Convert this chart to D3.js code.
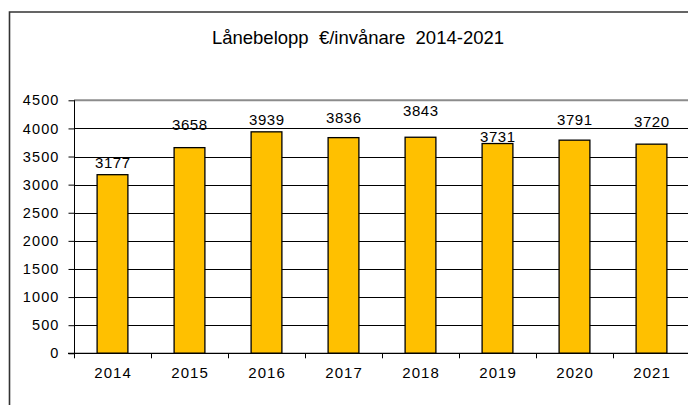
<!DOCTYPE html>
<html>
<head>
<meta charset="utf-8">
<script src="https://cdn.jsdelivr.net/npm/d3@7"></script>
<style>
    html, body { margin: 0; padding: 0; background: #fff; }
    svg { display: block; font-family: "Liberation Sans", Arial, sans-serif; }
    .title { white-space: pre; }
</style>
</head>
<body>
<div id="chart"></div>
<script>
/*
 * Chart data.
 */
var years = ['2014', '2015', '2016', '2017', '2018', '2019', '2020', '2021'];
var amounts = [3177, 3658, 3939, 3836, 3843, 3731, 3791, 3720];
var yTicks = [0, 500, 1000, 1500, 2000, 2500, 3000, 3500, 4000, 4500];
var title = 'Lånebelopp  €/invånare  2014-2021';
/*
 * Data labels were dragged by hand in the original, so keep their lift (px).
 */
var labelLift = [6.5, 18, 6.6, 15, 21, 1.6, 15, 17];


/**
 * Bar chart.
 * @public
 * @class
 */
function BarChart() {
    /**
     * Outer dimensions.
     * @private
     * @member {Object}
     */
    this._size = { width: 688, height: 405 };
    /**
     * Plot area box.
     * @private
     * @member {Object}
     */
    this._plot = { left: 74, right: 690, top: 100.3, bottom: 353.3 };
    /**
     * Scales.
     * @private
     */
    this._xScale = d3.scaleBand()
        .domain(years)
        .range([this._plot.left, this._plot.right])
        .paddingInner(0.6)
        .paddingOuter(0.3);
    this._bandScale = d3.scaleBand()
        .domain(years)
        .range([this._plot.left, this._plot.right]);
    this._yScale = d3.scaleLinear()
        .domain([0, 4500])
        .range([this._plot.bottom, this._plot.top]);
}


/**
 * Render chart.
 * @public
 * @param {String} selection
 * @returns {BarChart}
 */
BarChart.prototype.renderTo = function(selection) {

    var p = this._plot;

    this._svg = d3.select(selection).append('svg')
        .attr('width', this._size.width)
        .attr('height', this._size.height);
    /*
     * Outer frame, cut off on the right and at the bottom.
     */
    this._svg.append('path')
        .attr('d', 'M9.5,420V12H700')
        .attr('fill', 'none')
        .attr('stroke', '#333')
        .attr('stroke-width', 1.6);
    /*
     * Title.
     */
    this._svg.append('text')
        .attr('class', 'title')
        .attr('x', 358)
        .attr('y', 44)
        .attr('text-anchor', 'middle')
        .attr('font-size', 18.5)
        .attr('fill', '#000')
        .text(title);
    /*
     * Gridlines.
     */
    this._svg.append('g')
        .selectAll('line')
        .data(yTicks.filter(d => d > 0 && d < 4500))
        .join('line')
        .attr('x1', p.left)
        .attr('x2', p.right)
        .attr('y1', d => Math.round(this._yScale(d)) + 0.5)
        .attr('y2', d => Math.round(this._yScale(d)) + 0.5)
        .attr('stroke', '#000')
        .attr('stroke-width', 1);
    /*
     * Plot area top border (gray).
     */
    this._svg.append('line')
        .attr('x1', p.left)
        .attr('x2', p.right)
        .attr('y1', this._yScale(4500))
        .attr('y2', this._yScale(4500))
        .attr('stroke', '#8c8c8c')
        .attr('stroke-width', 2);
    /*
     * Y axis.
     */
    var yAxis = d3.axisLeft(this._yScale)
        .tickValues(yTicks)
        .tickSize(6)
        .tickPadding(9)
        .tickFormat(d3.format('d'));

    var gy = this._svg.append('g')
        .attr('transform', 'translate(' + (p.left + 0.5) + ',0)')
        .call(yAxis);

    gy.select('.domain')
        .attr('d', 'M0,' + p.top + 'V' + p.bottom)
        .attr('stroke', '#000');
    gy.selectAll('.tick line').attr('stroke', '#000');
    gy.selectAll('.tick text')
        .attr('font-family', '"Liberation Sans", Arial, sans-serif')
        .attr('font-size', 14.5)
        .attr('letter-spacing', '1.1px')
        .attr('fill', '#000');
    /*
     * Bars.
     */
    this._svg.append('g')
        .selectAll('rect')
        .data(amounts)
        .join('rect')
        .attr('x', (d, i) => this._xScale(years[i]))
        .attr('y', d => this._yScale(d))
        .attr('width', this._xScale.bandwidth())
        .attr('height', d => p.bottom - this._yScale(d))
        .attr('fill', '#FFC000')
        .attr('stroke', '#000')
        .attr('stroke-width', 1.3);
    /*
     * X axis.
     */
    this._svg.append('line')
        .attr('x1', p.left - 6)
        .attr('x2', p.right)
        .attr('y1', p.bottom)
        .attr('y2', p.bottom)
        .attr('stroke', '#000')
        .attr('stroke-width', 1.3);

    this._svg.append('g')
        .selectAll('line')
        .data(years)
        .join('line')
        .attr('x1', d => Math.round(this._bandScale(d)) + 0.5)
        .attr('x2', d => Math.round(this._bandScale(d)) + 0.5)
        .attr('y1', p.bottom)
        .attr('y2', p.bottom + 5)
        .attr('stroke', '#000');

    this._svg.append('g')
        .selectAll('text')
        .data(years)
        .join('text')
        .attr('x', d => this._xScale(d) + this._xScale.bandwidth() / 2 + 0.6)
        .attr('y', 378)
        .attr('text-anchor', 'middle')
        .attr('font-size', 15)
        .attr('letter-spacing', '1.1px')
        .attr('fill', '#000')
        .text(d => d);
    /*
     * Data labels.
     */
    this._svg.append('g')
        .selectAll('text')
        .data(amounts)
        .join('text')
        .attr('x', (d, i) => this._xScale(years[i]) + this._xScale.bandwidth() / 2 + 0.3)
        .attr('y', (d, i) => this._yScale(d) - labelLift[i])
        .attr('text-anchor', 'middle')
        .attr('font-size', 15)
        .attr('letter-spacing', '0.5px')
        .attr('fill', '#000')
        .text(d => d);

    return this;
};


new BarChart().renderTo('#chart');
</script>
</body>
</html>
